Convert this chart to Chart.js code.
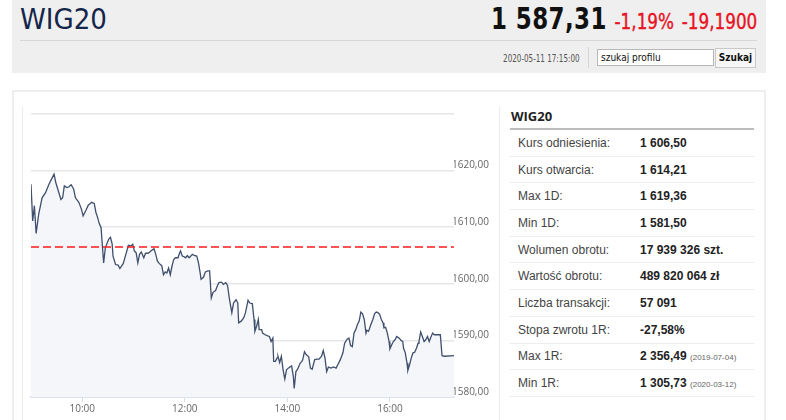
<!DOCTYPE html>
<html>
<head>
<meta charset="utf-8">
<script src="https://cdn.jsdelivr.net/npm/chart.js@4.4.0/dist/chart.umd.min.js"></script>
<style>
    html, body { margin: 0; padding: 0; background: #fff; }
    body { width: 786px; height: 420px; position: relative; overflow: hidden;
           font-family: "Liberation Sans", Arial, sans-serif; }
    .narrow { font-family: "Liberation Sans Narrow", "DejaVu Sans Condensed", "Liberation Sans", sans-serif; }
    #hdr { position: absolute; left: 12px; top: 0; width: 754px; height: 73px; background: #efefef; }
    #hdr .title { position: absolute; left: 8px; top: 2px; font-size: 29px; color: #14264a; }
    #hdr .price { position: absolute; right: 9px; top: 1px; white-space: nowrap;
                  transform: scaleX(0.85); transform-origin: right center; }
    #hdr .price b { font-size: 30px; color: #111; letter-spacing: 0.5px; }
    #hdr .price span { font-size: 22px; color: #e8141f; margin-left: 9px; -webkit-text-stroke: 0.4px #e8141f; }
    #hdr .sep { position: absolute; left: 8px; right: 9px; top: 40px; border-top: 1px solid #d6d6d6; }
    #hdr .date { position: absolute; right: 186px; top: 53px; font-size: 10px; color: #555;
                 transform: scaleX(0.8); transform-origin: right center; }
    #hdr .vsep { position: absolute; left: 576px; top: 47px; height: 21px; border-left: 1px solid #d6d6d6; }
    #hdr .inp { position: absolute; left: 585px; top: 49px; width: 112px; height: 15px; background: #fff;
                border: 1px solid #b8b8b8; font-size: 10px; line-height: 15px; padding-left: 3px; color: #111; }
    #hdr .btn { position: absolute; left: 703px; top: 48px; width: 39px; height: 18px; background: #f7f7f7;
                border: 1px solid #c8c8c8; font-size: 10px; font-weight: bold; line-height: 18px; text-align: center; color: #111; }
    #panel { position: absolute; left: 12px; top: 90px; width: 750px; height: 340px; border: 2px solid #eeeeee; }
    #chartbox { position: absolute; left: 22px; top: 107px; width: 476px; height: 320px;
                border-left: 1px solid #ececec; border-right: 1px solid #ececec; }
    #wrap { position: absolute; left: 22px; top: 100px; width: 474px; height: 320px; }
    #info { position: absolute; left: 510px; top: 104px; width: 244px; }
    #info h3 { margin: 0; font-family: "Open Sans", sans-serif; font-size: 13px; font-weight: bold; color: #222;
               height: 24px; line-height: 24px; padding-left: 1px; border-bottom: 2px solid #bdbdbd; }
    #info table { border-collapse: collapse; width: 100%; }
    #info td { height: 25.7px; border-bottom: 1px solid #ededed; font-size: 12px; padding: 0; }
    #info td.l { padding-left: 8px; color: #444; width: 122px; }
    #info td.v { font-weight: bold; color: #222; }
    #info td.v small { font-weight: normal; font-size: 8px; color: #666; }
</style>
</head>
<body>
<div id="hdr">
    <div class="title narrow">WIG20</div>
    <div class="price narrow"><b>1 587,31</b><span>-1,19%</span><span>-19,1900</span></div>
    <div class="sep"></div>
    <div class="date narrow">2020-05-11 17:15:00</div>
    <div class="vsep"></div>
    <div class="inp narrow">szukaj profilu</div>
    <div class="btn narrow">Szukaj</div>
</div>
<div id="panel"></div>
<div id="chartbox"></div>
<div id="wrap"><canvas id="wig-chart"></canvas></div>
<div id="info">
    <h3>WIG20</h3>
    <table id="info-table"></table>
</div>
<script>
"use strict";

// Intraday quotes (time, index level)
var times = [
    "09:00", "09:02", "09:04", "09:06", "09:09", "09:13", "09:17", "09:21", "09:24", "09:27",
    "09:29", "09:32", "09:35", "09:37", "09:39", "09:42", "09:44", "09:47", "09:50", "09:52",
    "09:56", "09:59", "10:01", "10:04", "10:07", "10:11", "10:14", "10:16", "10:18", "10:20",
    "10:22", "10:25", "10:27", "10:31", "10:33", "10:35", "10:36", "10:39", "10:42", "10:44",
    "10:48", "10:51", "10:54", "10:57", "10:59", "11:01", "11:03", "11:05", "11:07", "11:09",
    "11:12", "11:14", "11:17", "11:19", "11:22", "11:24", "11:26", "11:28", "11:30", "11:33",
    "11:35", "11:37", "11:39", "11:41", "11:43", "11:45", "11:47", "11:49", "11:52", "11:54",
    "11:55", "11:57", "11:59", "12:01", "12:03", "12:05", "12:07", "12:09", "12:11", "12:14",
    "12:16", "12:18", "12:19", "12:22", "12:24", "12:27", "12:29", "12:31", "12:33", "12:36",
    "12:38", "12:40", "12:43", "12:45", "12:48", "12:50", "12:52", "12:55", "12:57", "13:00",
    "13:02", "13:03", "13:06", "13:09", "13:11", "13:14", "13:16", "13:19", "13:21", "13:22",
    "13:24", "13:26", "13:27", "13:30", "13:31", "13:34", "13:37", "13:39", "13:41", "13:43",
    "13:44", "13:46", "13:48", "13:49", "13:51", "13:53", "13:55", "13:57", "13:59", "14:01",
    "14:03", "14:05", "14:07", "14:08", "14:10", "14:12", "14:15", "14:17", "14:18", "14:20",
    "14:22", "14:25", "14:27", "14:29", "14:32", "14:35", "14:37", "14:40", "14:42", "14:44",
    "14:46", "14:48", "14:51", "14:54", "14:57", "14:59", "15:02", "15:05", "15:07", "15:10",
    "15:12", "15:14", "15:16", "15:18", "15:20", "15:22", "15:24", "15:26", "15:28", "15:30",
    "15:32", "15:33", "15:35", "15:37", "15:40", "15:42", "15:44", "15:46", "15:48", "15:50",
    "15:52", "15:53", "15:55", "15:57", "15:59", "16:00", "16:02", "16:04", "16:06", "16:08",
    "16:11", "16:13", "16:15", "16:16", "16:18", "16:20", "16:21", "16:23", "16:25", "16:27",
    "16:29", "16:31", "16:33", "16:34", "16:36", "16:38", "16:40", "16:42", "16:44", "16:46",
    "16:48", "16:50", "16:52", "16:59", "17:01", "17:04", "17:15"
];
var values = [
    1617.6, 1611.1, 1613.8, 1608.9, 1612.3, 1615.2, 1616.1, 1617.6, 1618.5, 1619.36,
    1617.9, 1616.4, 1614.9, 1615.2, 1617.3, 1617.0, 1617.1, 1617.5, 1616.7, 1615.2,
    1614.4, 1613.2, 1612.0, 1612.9, 1613.9, 1614.4, 1614.2, 1612.6, 1611.7, 1610.6,
    1609.9, 1603.7, 1606.4, 1607.9, 1608.2, 1607.0, 1604.9, 1603.4, 1603.3, 1602.7,
    1603.6, 1605.2, 1606.8, 1606.7, 1607.0, 1605.8, 1605.5, 1603.7, 1605.2, 1605.6,
    1604.6, 1605.4, 1605.4, 1605.6, 1606.0, 1606.2, 1605.2, 1604.0, 1603.6, 1603.2,
    1601.6, 1602.1, 1601.9, 1602.8, 1601.6, 1603.1, 1604.3, 1604.6, 1604.6, 1605.5,
    1605.8, 1604.9, 1604.8, 1604.6, 1605.0, 1604.6, 1604.9, 1605.2, 1605.0, 1604.9,
    1603.7, 1601.9, 1600.8, 1601.2, 1602.1, 1602.3, 1602.3, 1597.5, 1598.5, 1598.8,
    1599.6, 1600.2, 1600.3, 1599.9, 1600.2, 1599.7, 1597.5, 1594.9, 1596.6, 1597.2,
    1596.6, 1593.1, 1593.4, 1594.0, 1594.9, 1597.1, 1596.6, 1596.5, 1593.7, 1591.6,
    1592.5, 1593.7, 1591.9, 1591.9, 1591.3, 1591.0, 1590.8, 1590.7, 1589.8, 1590.4,
    1586.3, 1586.3, 1586.9, 1587.2, 1586.1, 1587.2, 1584.8, 1583.2, 1584.8, 1585.1,
    1585.3, 1585.5, 1583.6, 1581.5, 1584.5, 1584.9, 1586.0, 1586.3, 1586.6, 1588.0,
    1587.5, 1587.1, 1585.1, 1584.9, 1586.6, 1586.7, 1586.7, 1587.2, 1588.2, 1586.9,
    1584.5, 1585.3, 1585.1, 1585.3, 1585.1, 1585.7, 1586.6, 1587.8, 1589.5, 1590.2,
    1590.4, 1589.1, 1588.9, 1591.3, 1591.9, 1592.8, 1593.4, 1595.0, 1594.7, 1593.7,
    1591.3, 1591.8, 1591.6, 1592.5, 1593.7, 1594.7, 1595.0, 1594.9, 1594.6, 1593.7,
    1593.1, 1592.2, 1592.3, 1591.3, 1589.8, 1588.5, 1589.2, 1589.8, 1590.1, 1590.7,
    1590.4, 1590.0, 1589.8, 1588.6, 1587.8, 1586.0, 1584.7, 1585.7, 1586.9, 1587.8,
    1587.9, 1588.6, 1589.5, 1589.8, 1591.5, 1590.7, 1589.8, 1590.1, 1590.7, 1589.8,
    1590.6, 1591.3, 1591.0, 1591.0, 1587.3, 1587.2, 1587.31
];
var refLevel = 1606.50;          // Kurs odniesienia
var sessionStart = "09:00";
var sessionEnd = "17:15";
var xTickLabels = ["10:00", "12:00", "14:00", "16:00"];
var yTickValues = [1580, 1590, 1600, 1610, 1620, 1630];

// Side table
var infoLabels = ["Kurs odniesienia:", "Kurs otwarcia:", "Max 1D:", "Min 1D:", "Wolumen obrotu:",
    "Wartość obrotu:", "Liczba transakcji:", "Stopa zwrotu 1R:", "Max 1R:", "Min 1R:"];
var infoValues = ["1 606,50", "1 614,21", "1 619,36", "1 581,50", "17 939 326 szt.",
    "489 820 064 zł", "57 091", "-27,58%", "2 356,49", "1 305,73"];
var infoNotes = ["", "", "", "", "", "", "", "", "(2019-07-04)", "(2020-03-12)"];

function toMinutes(t) {
    var p = t.split(":");
    return (parseInt(p[0], 10) - 9) * 60 + parseInt(p[1], 10);
}
function fromMinutes(m) {
    var h = 9 + Math.floor(m / 60), mm = m % 60;
    return (h < 10 ? "0" + h : h) + ":" + (mm < 10 ? "0" + mm : mm);
}

var rows = "";
for (var i = 0; i < infoLabels.length; i++) {
    rows += '<tr><td class="l">' + infoLabels[i] + '</td><td class="v">' + infoValues[i] +
        (infoNotes[i] ? ' <small>' + infoNotes[i] + '</small>' : '') + '</td></tr>';
}
document.getElementById("info-table").innerHTML = rows;

var points = times.map(function (t, i) { return { x: toMinutes(t), y: values[i] }; });
var xMin = toMinutes(sessionStart), xMax = toMinutes(sessionEnd);

var tickFont = { family: "'Open Sans', sans-serif", size: 10 };

var ctx = document.getElementById("wig-chart").getContext("2d");
var chart = new Chart(ctx, {
    type: "line",
    data: {
        datasets: [{
                label: "WIG20",
                data: points,
                borderColor: "#3f4f6c",
                borderWidth: 1.3,
                backgroundColor: "#f4f6f9",
                fill: "start",
                pointRadius: 0,
                tension: 0,
                order: 2
            },
            {
                label: "Kurs odniesienia",
                data: [{ x: xMin, y: refLevel }, { x: xMax, y: refLevel }],
                borderColor: "#ff1a1a",
                borderWidth: 1.4,
                borderDash: [8, 4],
                fill: false,
                pointRadius: 0,
                order: 1
            }
        ]
    },
    options: {
        responsive: true,
        maintainAspectRatio: false,
        animation: false,
        layout: { padding: { left: 9, top: 14, right: 0, bottom: 0 } },
        plugins: { legend: { display: false }, tooltip: { enabled: false } },
        scales: {
            x: {
                type: "linear",
                min: xMin,
                max: xMax,
                afterBuildTicks: function (axis) {
                    axis.ticks = xTickLabels.map(function (l) { return { value: toMinutes(l) }; });
                },
                afterFit: function (axis) { axis.height = 23; },
                ticks: {
                    color: "#666",
                    font: tickFont,
                    padding: 1,
                    maxRotation: 0,
                    callback: function (v) { return fromMinutes(v); }
                },
                grid: { drawOnChartArea: false, color: "#d6dee8", tickLength: 5, lineWidth: 1 },
                border: { color: "#dbe3ec", width: 2 }
            },
            y: {
                position: "right",
                min: yTickValues[0],
                max: yTickValues[yTickValues.length - 1],
                afterBuildTicks: function (axis) {
                    axis.ticks = yTickValues.map(function (v) { return { value: v }; });
                },
                afterFit: function (axis) { axis.width = 42; },
                ticks: {
                    color: "#666",
                    font: tickFont,
                    padding: -2,
                    labelOffset: -5,
                    callback: function (v) {
                        if (v === yTickValues[yTickValues.length - 1]) return "";
                        return v.toFixed(2).replace(".", ",");
                    }
                },
                grid: { color: "#e6e6e6", lineWidth: 1.5, drawTicks: false },
                border: { display: false }
            }
        }
    }
});
</script>
</body>
</html>
